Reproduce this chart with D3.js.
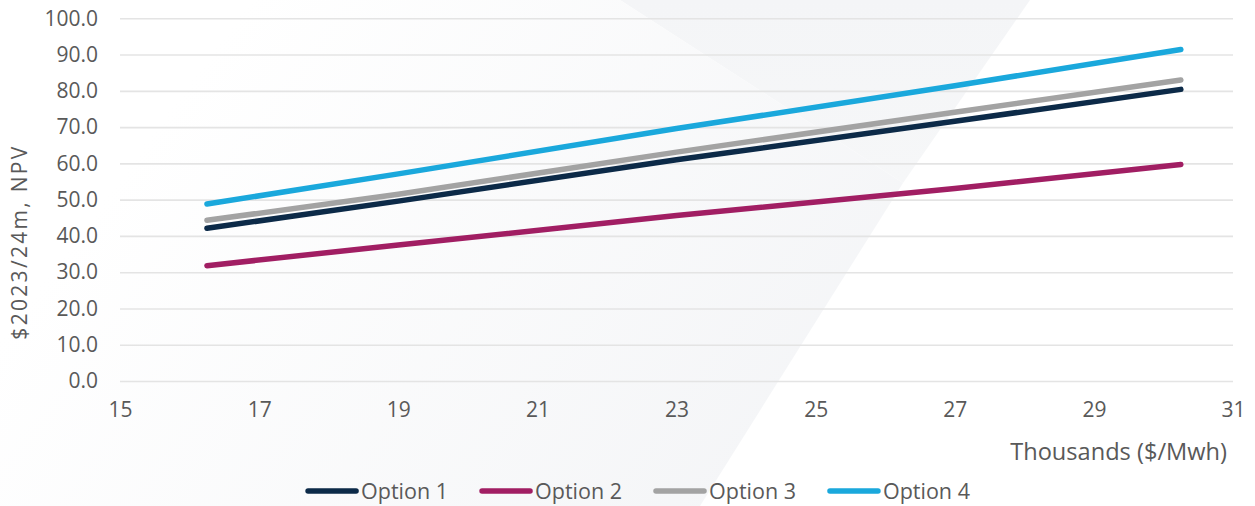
<!DOCTYPE html>
<html>
<head>
<meta charset="utf-8">
<script src="https://cdn.jsdelivr.net/npm/d3@7"></script>
<style>
  html, body { margin: 0; padding: 0; background: #ffffff; }
  svg { display: block; }
  text { font-family: "Open Sans", "Noto Sans", sans-serif; fill: #595959; }
</style>
</head>
<body>
<svg id="chart" width="1255" height="506"></svg>
<script>
// Price points (thousands $/MWh) and NPV results per option
const prices = [16.25, 19, 23, 27, 30.25];
const option1 = [42.1, 49.6, 61.0, 71.6, 80.4];
const option2 = [31.8, 37.5, 45.6, 53.1, 59.7];
const option3 = [44.3, 51.5, 63.1, 74.1, 83.0];
const option4 = [48.8, 57.1, 69.6, 81.4, 91.4];

const seriesNames = ["Option 1", "Option 2", "Option 3", "Option 4"];
const seriesColors = ["#0c2a48", "#a11e63", "#a3a3a3", "#1aa8dc"];
const seriesValues = [option1, option2, option3, option4];

const xTicks = [15, 17, 19, 21, 23, 25, 27, 29, 31];
const yTicks = [0, 10, 20, 30, 40, 50, 60, 70, 80, 90, 100];

const yTitle = "$2023/24m, NPV";
const xTitle = "Thousands ($/Mwh)";

const W = 1255, H = 506;
const plot = { left: 120, right: 1233, top: 18.3, bottom: 381 };

const svg = d3.select("#chart");
const defs = svg.append("defs");

// Faint diagonal backdrop shapes
const bg = svg.append("g");
bg.append("rect").attr("width", W).attr("height", H).attr("fill", "#ffffff");
const grad = defs.append("linearGradient").attr("id", "fadeLeft")
  .attr("gradientUnits", "userSpaceOnUse")
  .attr("x1", 820).attr("y1", 420).attr("x2", 250).attr("y2", 0);
grad.append("stop").attr("offset", "0").attr("stop-color", "#f4f5f7");
grad.append("stop").attr("offset", "1").attr("stop-color", "#ffffff");
const gradTop = defs.append("linearGradient").attr("id", "fadeTop")
  .attr("gradientUnits", "userSpaceOnUse")
  .attr("x1", 0).attr("y1", 0).attr("x2", 0).attr("y2", 184);
gradTop.append("stop").attr("offset", "0").attr("stop-color", "#f4f5f7");
gradTop.append("stop").attr("offset", "1").attr("stop-color", "#f6f7f8");
bg.append("path")
  .attr("d", "M620,0 L1030,0 L903,183 Z")
  .attr("fill", "url(#fadeTop)");
bg.append("path")
  .attr("d", "M620,0 L903,183 L700,506 L0,506 L0,0 Z")
  .attr("fill", "url(#fadeLeft)");

const x = d3.scaleLinear().domain([15, 31]).range([plot.left, plot.right]);
const y = d3.scaleLinear().domain([0, 100]).range([plot.bottom, plot.top]);

// Horizontal gridlines with value labels
const yAxis = d3.axisLeft(y).tickValues(yTicks)
  .tickSize(-(plot.right - plot.left)).tickPadding(22)
  .tickFormat(d3.format(".1f"));
const gy = svg.append("g").attr("transform", `translate(${plot.left},0)`).call(yAxis);
gy.select(".domain").remove();
gy.selectAll(".tick line").attr("stroke", "#e4e4e4").attr("stroke-width", 1.6);
gy.selectAll(".tick text").attr("font-size", 21).attr("fill", "#595959")
  .attr("font-family", "Open Sans, sans-serif");

// Bottom value labels
const xAxis = d3.axisBottom(x).tickValues(xTicks).tickSize(0).tickPadding(21)
  .tickFormat(d3.format("d"));
const gx = svg.append("g").attr("transform", `translate(0,${plot.bottom})`).call(xAxis);
gx.select(".domain").remove();
gx.selectAll(".tick text").attr("font-size", 21).attr("fill", "#595959")
  .attr("font-family", "Open Sans, sans-serif");

// Axis titles
svg.append("text")
  .attr("transform", "translate(27,242) rotate(-90)")
  .attr("text-anchor", "middle")
  .attr("font-size", 21)
  .attr("letter-spacing", 2.3)
  .text(yTitle);
svg.append("text")
  .attr("x", 1227).attr("y", 460)
  .attr("text-anchor", "end")
  .attr("font-size", 23.6)
  .text(xTitle);

// Series lines
const line = d3.line().x((d, i) => x(prices[i])).y(d => y(d));
const drawOrder = [1, 0, 2, 3];
drawOrder.forEach(k => {
  svg.append("path")
    .datum(seriesValues[k])
    .attr("d", line)
    .attr("fill", "none")
    .attr("stroke", seriesColors[k])
    .attr("stroke-width", 5.5)
    .attr("stroke-linecap", "round")
    .attr("stroke-linejoin", "round");
});

// Legend
const legend = svg.append("g");
let lx = 0;
seriesNames.forEach((name, k) => {
  const g = legend.append("g");
  g.append("line")
    .attr("x1", 2).attr("x2", 50).attr("y1", 0).attr("y2", 0)
    .attr("stroke", seriesColors[k]).attr("stroke-width", 5.5)
    .attr("stroke-linecap", "round");
  const t = g.append("text").attr("x", 55).attr("y", 7.5).attr("font-size", 21.5).text(name);
  const w = t.node().getComputedTextLength();
  g.attr("transform", `translate(${lx},0)`);
  lx += 55 + w + 32;
});
const legendWidth = lx - 32;
legend.attr("transform", `translate(${638 - legendWidth / 2},491)`);
</script>
</body>
</html>
